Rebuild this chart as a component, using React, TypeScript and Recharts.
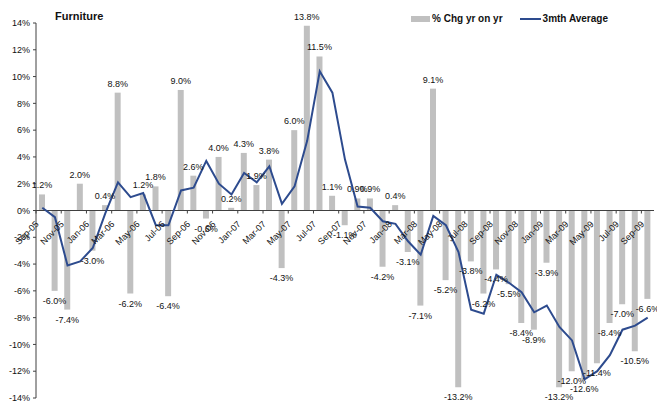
import React from 'react';
import { ComposedChart, Bar, Line, XAxis, YAxis, ReferenceLine, LabelList, Legend } from 'recharts';

const months = [
  'Sep-05', 'Oct-05', 'Nov-05', 'Dec-05', 'Jan-06', 'Feb-06', 'Mar-06', 'Apr-06', 'May-06', 'Jun-06',
  'Jul-06', 'Aug-06', 'Sep-06', 'Oct-06', 'Nov-06', 'Dec-06', 'Jan-07', 'Feb-07', 'Mar-07', 'Apr-07',
  'May-07', 'Jun-07', 'Jul-07', 'Aug-07', 'Sep-07', 'Oct-07', 'Nov-07', 'Dec-07', 'Jan-08', 'Feb-08',
  'Mar-08', 'Apr-08', 'May-08', 'Jun-08', 'Jul-08', 'Aug-08', 'Sep-08', 'Oct-08', 'Nov-08', 'Dec-08',
  'Jan-09', 'Feb-09', 'Mar-09', 'Apr-09', 'May-09', 'Jun-09', 'Jul-09', 'Aug-09', 'Sep-09',
];

const yoyChange = [
  1.2, -6.0, -7.4, 2.0, -3.0, 0.4, 8.8, -6.2, 1.2, 1.8,
  -6.4, 9.0, 2.6, -0.6, 4.0, 0.2, 4.3, 1.9, 3.8, -4.3,
  6.0, 13.8, 11.5, 1.1, -1.1, 0.9, 0.9, -4.2, 0.4, -3.1,
  -7.1, 9.1, -5.2, -13.2, -3.8, -6.2, -4.4, -5.5, -8.4, -8.9,
  -3.9, -13.2, -12.0, -12.6, -11.4, -8.4, -7.0, -10.5, -6.6,
];

const threeMonthAvg = [
  0.2, -0.5, -4.1, -3.8, -2.8, -0.2, 2.1, 1.0, 1.3, -1.1,
  -1.1, 1.5, 1.7, 3.7, 2.0, 1.2, 2.8, 2.1, 3.3, 0.5,
  1.8, 5.2, 10.4, 8.8, 3.8, 0.3, 0.2, -0.8, -1.0, -2.3,
  -3.3, -0.4, -1.1, -3.1, -7.4, -7.7, -4.8, -5.4, -6.1, -7.6,
  -7.1, -8.7, -9.7, -12.6, -12.0, -10.8, -8.9, -8.6, -8.0,
];

const yTicks = [-14, -12, -10, -8, -6, -4, -2, 0, 2, 4, 6, 8, 10, 12, 14];

const seriesNames = { yoy: '% Chg yr on yr', avg: '3mth Average' };
const chartTitle = 'Furniture';

const data = months.map((m, i) => ({ month: m, yoy: yoyChange[i], avg: threeMonthAvg[i] }));

const W = 657;
const H = 408;
const MARGIN = { top: 23, right: 3, bottom: 9, left: 0 };
const Y_AXIS_W = 36;
const X_AXIS_H = 1;
const PLOT_H = H - MARGIN.top - MARGIN.bottom - X_AXIS_H;
const PLOT_W = W - MARGIN.left - MARGIN.right - Y_AXIS_W;
const ZERO_Y = MARGIN.top + PLOT_H / 2;
const BAND = PLOT_W / months.length;

const FONT = '"Liberation Sans", Arial, sans-serif';
const TEXT = '#111111';
const AXIS = '#404040';
const BAR = '#C0C0C0';
const LINE = '#2D4B8E';

function XTick(props: any) {
  const { x, payload } = props;
  const cx = Number(x);
  const tx = cx - 5;
  const ty = ZERO_Y + 12;
  return (
    <g>
      <line x1={cx - BAND / 2} x2={cx - BAND / 2} y1={ZERO_Y} y2={ZERO_Y + 3} stroke={AXIS} strokeWidth={1} />
      <text
        x={tx}
        y={ty}
        textAnchor="end"
        dominantBaseline="central"
        transform={`rotate(-45 ${tx} ${ty})`}
        fontSize={9}
        fontFamily={FONT}
        fill={TEXT}
      >
        {payload.value}
      </text>
    </g>
  );
}

function BarLabel(props: any) {
  const x = Number(props.x);
  const y = Number(props.y);
  const w = Number(props.width);
  const h = Number(props.height);
  const v = Number(props.value);
  const cx = x + w / 2;
  const top = Math.min(y, y + h);
  const bottom = Math.max(y, y + h);
  const ly = v >= 0 ? top - 9 : bottom + 10;
  return (
    <text x={cx} y={ly} textAnchor="middle" dominantBaseline="central" fontSize={9} fontFamily={FONT} fill={TEXT}>
      {`${v.toFixed(1)}%`}
    </text>
  );
}

function LegendContent(props: any) {
  const payload = props.payload || [];
  return (
    <div style={{ display: 'flex', alignItems: 'center', fontFamily: FONT, fontSize: 10, fontWeight: 'bold', color: TEXT, whiteSpace: 'nowrap', lineHeight: '12px' }}>
      {payload.map((entry: any, i: number) => (
        <div key={i} style={{ display: 'flex', alignItems: 'center', marginLeft: i === 0 ? 0 : 17 }}>
          {entry.type === 'line' ? (
            <span style={{ display: 'inline-block', width: 21, height: 2, background: LINE, marginRight: 2 }} />
          ) : (
            <span style={{ display: 'inline-block', width: 19, height: 6, background: BAR, marginRight: 2 }} />
          )}
          <span>{entry.value}</span>
        </div>
      ))}
    </div>
  );
}

export default function App() {
  return (
    <div style={{ position: 'absolute', left: 0, top: 0, width: W, height: H, fontFamily: FONT, background: '#fff' }}>
      <div style={{ position: 'absolute', left: 55, top: 10, fontSize: 11, fontWeight: 'bold', lineHeight: '12px', color: TEXT, fontFamily: FONT }}>
        {chartTitle}
      </div>
      <ComposedChart width={W} height={H} data={data} margin={MARGIN}>
        <XAxis
          dataKey="month"
          interval={1}
          height={X_AXIS_H}
          axisLine={false}
          tickLine={false}
          tick={<XTick />}
        />
        <YAxis
          domain={[-14, 14]}
          ticks={yTicks}
          interval={0}
          width={Y_AXIS_W}
          tickSize={3}
          tickMargin={3}
          axisLine={{ stroke: AXIS }}
          tickLine={{ stroke: AXIS }}
          tick={{ fontSize: 9, fill: TEXT, fontFamily: FONT }}
          tickFormatter={(v: number) => `${v}%`}
        />
        <Legend
          layout="vertical"
          align="center"
          verticalAlign="middle"
          wrapperStyle={{ position: 'absolute', left: 411, top: 13, width: 'auto', height: 'auto' }}
          content={<LegendContent />}
        />
        <Bar dataKey="yoy" name={seriesNames.yoy} fill={BAR} barSize={6} isAnimationActive={false} legendType="rect">
          <LabelList dataKey="yoy" content={<BarLabel />} />
        </Bar>
        <ReferenceLine y={0} stroke={AXIS} strokeWidth={1} />
        <Line
          dataKey="avg"
          name={seriesNames.avg}
          type="linear"
          stroke={LINE}
          strokeWidth={2}
          dot={false}
          activeDot={false}
          isAnimationActive={false}
          legendType="line"
        />
      </ComposedChart>
    </div>
  );
}
